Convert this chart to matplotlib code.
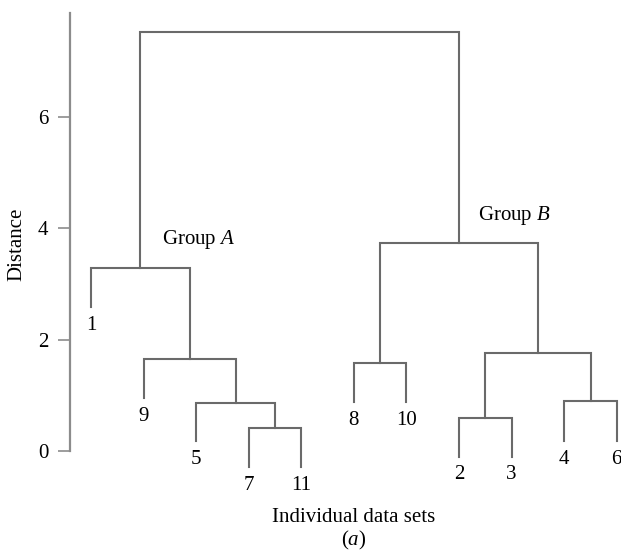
import matplotlib
matplotlib.use('Agg')
import matplotlib.pyplot as plt

plt.rcParams['font.family'] = ['Liberation Serif', 'DejaVu Serif']
plt.rcParams['mathtext.fontset'] = 'custom'
plt.rcParams['mathtext.rm'] = 'Liberation Serif'
plt.rcParams['mathtext.it'] = 'Liberation Serif:italic'

# leaves in dendrogram order, with the height where each leaf stem ends
leaf_labels = ['1', '9', '5', '7', '11', '8', '10', '2', '3', '4', '6']
leaf_heights = [2.58, 0.95, 0.17, -0.28, -0.28, 0.87, 0.87, -0.10, -0.10, 0.18, 0.18]

# merges: node ids 0..10 are leaves, new clusters get 11, 12, ...
merge_left = [3, 2, 1, 0, 5, 7, 9, 16, 15, 14]
merge_right = [4, 11, 12, 13, 6, 8, 10, 17, 18, 19]
merge_heights = [0.42, 0.86, 1.65, 3.28, 1.57, 0.60, 0.90, 1.75, 3.73, 7.52]

yticks = [0, 2, 4, 6]

line_col = '#6a6a6a'
spine_col = '#8c8c8c'

fig = plt.figure(figsize=(6.21, 5.52), dpi=100)
ax = fig.add_axes([70 / 621, 0.1225, 551 / 621, 0.8681])

node_x = list(range(len(leaf_labels)))
node_h = list(leaf_heights)
for l, r, h in zip(merge_left, merge_right, merge_heights):
    xl, xr = node_x[l], node_x[r]
    ax.plot([xl, xl, xr, xr], [node_h[l], h, h, node_h[r]],
            color=line_col, lw=1.5, solid_joinstyle='miter', clip_on=False)
    node_x.append((xl + xr) / 2)
    node_h.append(h)

for i, lab in enumerate(leaf_labels):
    ax.annotate(lab, (i, leaf_heights[i]), xytext=(0, -13.3), textcoords='offset points',
                ha='center', va='center', fontsize=15, annotation_clip=False)

ax.text(1.35, 3.80, 'Group $A$', fontsize=15, ha='left', va='center')
ax.text(7.36, 4.23, 'Group $B$', fontsize=15, ha='left', va='center')

ax.set_xlim(-0.40, 10.08)
ax.set_ylim(-0.6, 8.0)
ax.set_xticks([])
ax.set_yticks(yticks)
ax.tick_params(axis='y', direction='out', length=8.4, width=1.2, color=spine_col,
               pad=7, labelsize=15)
for s in ['top', 'right', 'bottom']:
    ax.spines[s].set_visible(False)
ax.spines['left'].set_bounds(0, 7.855)
ax.spines['left'].set_color(spine_col)
ax.spines['left'].set_linewidth(1.6)
ax.patch.set_visible(False)

fig.text(16.7 / 621, 1 - 244.7 / 552, 'Distance', rotation=90, fontsize=15,
         ha='center', va='center')
fig.text(353.5 / 621, 1 - 517 / 552, 'Individual data sets', fontsize=15,
         ha='center', va='center')
fig.text(353.5 / 621, 1 - 540 / 552, '($a$)', fontsize=15, ha='center', va='center')

fig.savefig('out.png', dpi=100)
